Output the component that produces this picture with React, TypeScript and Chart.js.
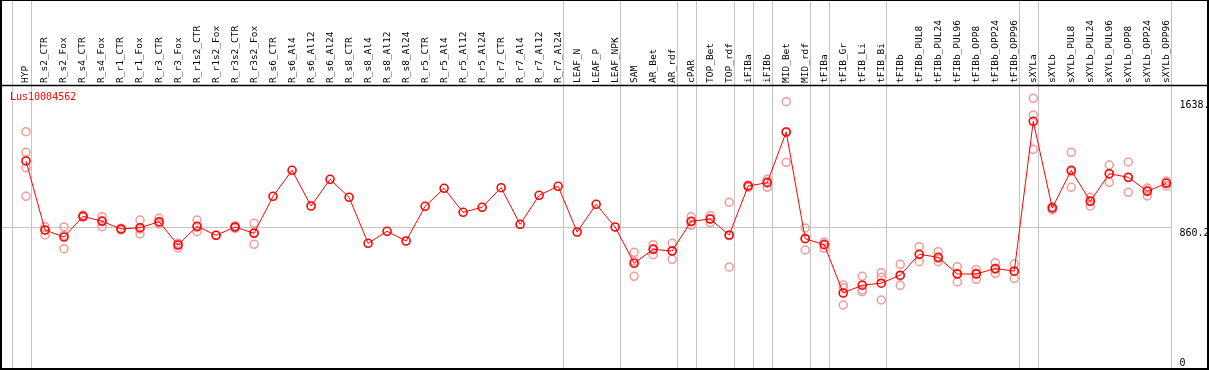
import React, { useEffect, useRef } from "react";
import { Chart, registerables } from "chart.js";

Chart.register(...registerables);

const geneName = "Lus10004562";

const categories = [
  "HYP", "R_s2_CTR", "R_s2_Fox", "R_s4_CTR", "R_s4_Fox", "R_r1_CTR", "R_r1_Fox",
  "R_r3_CTR", "R_r3_Fox", "R_r1s2_CTR", "R_r1s2_Fox", "R_r3s2_CTR", "R_r3s2_Fox",
  "R_s6_CTR", "R_s6_Al4", "R_s6_Al12", "R_s6_Al24", "R_s8_CTR", "R_s8_Al4",
  "R_s8_Al12", "R_s8_Al24", "R_r5_CTR", "R_r5_Al4", "R_r5_Al12", "R_r5_Al24",
  "R_r7_CTR", "R_r7_Al4", "R_r7_Al12", "R_r7_Al24", "LEAF_N", "LEAF_P", "LEAF_NPK",
  "SAM", "AR_Bet", "AR_rdf", "cPAR", "TOP_Bet", "TOP_rdf", "iFIBa", "iFIBb",
  "MID_Bet", "MID_rdf", "tFIBa", "tFIB_Gr", "tFIB_Li", "tFIB_Bi", "tFIBb",
  "tFIBb_PUL8", "tFIBb_PUL24", "tFIBb_PUL96", "tFIBb_OPP8", "tFIBb_OPP24",
  "tFIBb_OPP96", "sXYLa", "sXYLb", "sXYLb_PUL8", "sXYLb_PUL24", "sXYLb_PUL96",
  "sXYLb_OPP8", "sXYLb_OPP24", "sXYLb_OPP96",
];

const meanValues = [
  1264, 844.5, 801.9, 927.7, 897.3, 850.5, 858.4, 894.9, 753.3, 866.9, 812.3, 862.7, 824.4,
  1049.2, 1207.2, 990.3, 1152.5, 1043.1, 763.7, 836.6, 777.6, 988.5, 1097.8, 952.0, 982.4,
  1101.5, 879.1, 1055.3, 1110.0, 832.3, 1000.6, 862.7,
  642.2, 727.2, 716.9, 897.3, 911.3, 814.1, 1111.8, 1131.8, 1439.8, 791.6, 755.2,
  461.7, 509.1, 521.3, 569.9, 696.8, 678.6, 577.2, 577.2, 610.6, 594.2,
  1504.8, 978.1, 1207.2, 1018.8, 1186.5, 1164.6, 1079.6, 1128.2,
];

const replicateValues: number[][] = [
  [1441.6, 1316.5, 1223.0, 1049.2],
  [864.5, 814.1, 844.5],
  [862.7, 730.9, 812],
  [935.6, 921.6, 927],
  [925.3, 864.5, 902],
  [854.8, 844.5, 852],
  [905.2, 820.2, 850],
  [915.6, 880.9, 888],
  [763.7, 735.1, 761],
  [905.2, 834.1, 861],
  [812.3],
  [854.8, 871, 862],
  [885.2, 757.6, 830],
  [], [], [], [], [], [], [], [], [], [], [], [], [], [], [], [], [], [], [],
  [709.0, 563.2, 654],
  [755.2, 694.4, 732],
  [763.7, 666.5, 720],
  [925.3, 873.0, 894],
  [931.3, 888.8, 914],
  [1012.8, 619.7, 810],
  [1117.9, 1103.9, 1113],
  [1152.5, 1103.9, 1139],
  [1623.9, 1255.8, 1440],
  [856.6, 723.0, 795],
  [771.6, 733.3, 761],
  [510.3, 493.9, 388.8],
  [563.2, 480.0, 469.6],
  [585.1, 557.1, 419.2],
  [636.1, 508.5, 565],
  [743.0, 651.9, 696],
  [712.6, 651.9, 671],
  [621.5, 528.6, 581],
  [603.3, 545.0, 583],
  [645.8, 581.4, 605],
  [637.9, 551.0, 594],
  [1644.6, 1543.1, 1334.7],
  [966.0, 985, 983],
  [1316.5, 1103.9, 1201],
  [1043.1, 990.3, 1023],
  [1239.4, 1134.3, 1186],
  [1257.6, 1073.5, 1163],
  [1099.6, 1051.0, 1088],
  [1142.2, 1111.8, 1131],
];

const yTickValues = [0, 860.2, 1638];
const yTickLabels = ["0", "860.2", "1638."];
const gridValues = [860.2];
const groupEnds = [-1, 0, 28, 31, 34, 35, 37, 38, 39, 41, 42, 45, 52, 53, 60];

const SEP_OFFSET = 0.27;

const decorPlugin = {
  id: "decor",
  beforeDatasetsDraw(chart: any) {
    const { ctx, chartArea, scales } = chart;
    const xs = scales.x;
    const ys = scales.y;
    ctx.save();
    ctx.strokeStyle = "#c4c4c4";
    ctx.lineWidth = 1;
    for (const g of groupEnds) {
      const px = Math.round(xs.getPixelForValue(g + SEP_OFFSET)) + 0.5;
      ctx.beginPath();
      ctx.moveTo(px, 0);
      ctx.lineTo(px, chart.height);
      ctx.stroke();
    }
    const right = Math.round(xs.getPixelForValue(categories.length - 1 + SEP_OFFSET)) + 0.5;
    for (const v of gridValues) {
      const py = Math.round(ys.getPixelForValue(v)) + 0.5;
      ctx.beginPath();
      ctx.moveTo(chartArea.left, py);
      ctx.lineTo(right, py);
      ctx.stroke();
    }
    ctx.restore();
  },
  afterDraw(chart: any) {
    const { ctx, chartArea, scales } = chart;
    const xs = scales.x;
    const ys = scales.y;
    ctx.save();
    // category labels (rotated)
    ctx.fillStyle = "#000";
    ctx.font = "9.5px 'DejaVu Sans Mono', monospace";
    ctx.textAlign = "left";
    ctx.textBaseline = "middle";
    categories.forEach((c, i) => {
      const px = xs.getPixelForValue(i);
      ctx.save();
      ctx.translate(px, chartArea.top - 3);
      ctx.rotate(-Math.PI / 2);
      ctx.fillText(c, 0, 0);
      ctx.restore();
    });
    // y labels
    ctx.font = "10px 'DejaVu Sans Mono', monospace";
    ctx.textBaseline = "top";
    const lx = xs.getPixelForValue(categories.length - 1 + SEP_OFFSET) + 8;
    yTickValues.forEach((v, i) => {
      const py = Math.min(ys.getPixelForValue(v) + 1, chartArea.bottom - 11);
      ctx.fillText(yTickLabels[i], lx, py);
    });
    // gene name
    ctx.fillStyle = "#ff0000";
    ctx.textBaseline = "middle";
    ctx.fillText(geneName, 10, chartArea.top + 11.5);
    // header separator
    ctx.strokeStyle = "#000";
    ctx.lineWidth = 1.5;
    ctx.beginPath();
    ctx.moveTo(0, chartArea.top - 0.5);
    ctx.lineTo(chart.width, chartArea.top - 0.5);
    ctx.stroke();
    // frame
    ctx.lineWidth = 2;
    ctx.strokeRect(1, 0, chart.width - 2, chart.height - 1);
    ctx.restore();
  },
};

export default function App() {
  const ref = useRef<HTMLCanvasElement | null>(null);
  useEffect(() => {
    document.body.style.margin = "0";
    const canvas = ref.current;
    if (!canvas) return;
    const repPoints: { x: number; y: number }[] = [];
    replicateValues.forEach((arr, i) => arr.forEach((v) => repPoints.push({ x: i, y: v })));
    const meanPoints = meanValues.map((v, i) => ({ x: i, y: v }));
    const chart = new Chart(canvas, {
      type: "line",
      data: {
        datasets: [
          {
            label: "replicates",
            data: repPoints,
            showLine: false,
            pointRadius: 4,
            pointBorderWidth: 1.5,
            pointBorderColor: "#f09a9a",
            pointBackgroundColor: "rgba(0,0,0,0)",
            borderColor: "#f09a9a",
            order: 2,
            clip: false,
          },
          {
            label: geneName,
            data: meanPoints,
            borderColor: "#ff0000",
            borderWidth: 1,
            pointRadius: 4,
            pointBorderWidth: 1.6,
            pointBorderColor: "#ff0000",
            pointBackgroundColor: "rgba(0,0,0,0)",
            tension: 0,
            order: 1,
            clip: false,
          },
        ],
      },
      options: {
        responsive: false,
        animation: false,
        devicePixelRatio: 1,
        layout: { autoPadding: false, padding: { top: 86, bottom: 1, left: 0, right: 0 } },
        plugins: { legend: { display: false }, tooltip: { enabled: false } },
        scales: {
          x: { type: "linear", min: -1.368, max: 62.247, display: false },
          y: { type: "linear", min: 0, max: 1719.3, display: false },
        },
      },
      plugins: [decorPlugin],
    } as any);
    return () => chart.destroy();
  }, []);
  return (
    <canvas
      ref={ref}
      width={1209}
      height={370}
      style={{ display: "block", width: 1209, height: 370 }}
    />
  );
}
